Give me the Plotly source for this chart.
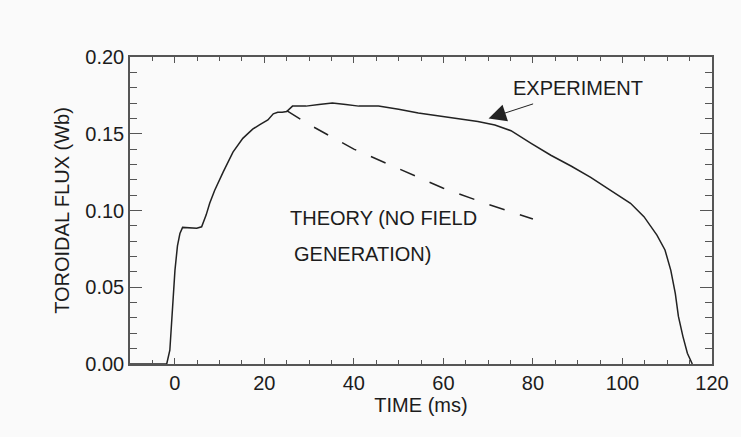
import plotly.graph_objects as go

# Experiment curve (time in ms, toroidal flux in Wb)
exp_time = [-10, -1.8, -1.1, -0.6, 0.04, 0.6, 1.15, 1.75, 3.0, 4.9, 6.0, 7.0, 7.8, 8.9,
            10.8, 13.0, 15.2, 17.4, 19.0, 20.8, 22.0, 23.0, 24.0, 25.0, 26.3, 29.3,
            32.2, 35.2, 38.2, 41.1, 45.5, 50.0, 54.4, 58.9, 63.3, 67.7, 71.5, 75.1,
            79.6, 84.0, 88.5, 92.9, 97.0, 101.8, 104.8, 107.7, 109.5, 110.8, 111.8,
            112.5, 113.5, 114.5, 115.6]
exp_flux = [0.0, 0.0, 0.009, 0.035, 0.061, 0.077, 0.085, 0.089, 0.0888, 0.0884, 0.0894,
            0.097, 0.1047, 0.113, 0.125, 0.138, 0.147, 0.153, 0.156, 0.159, 0.163,
            0.164, 0.164, 0.1645, 0.168, 0.168, 0.169, 0.170, 0.169, 0.168, 0.168,
            0.166, 0.1635, 0.1616, 0.160, 0.158, 0.1557, 0.152, 0.1438, 0.136, 0.129,
            0.1216, 0.1138, 0.1047, 0.096, 0.084, 0.0743, 0.061, 0.046, 0.031, 0.018,
            0.007, 0.0]

# Theory (no field generation) curve
theory_time = [25, 30, 40, 50, 60, 70, 80]
theory_flux = [0.165, 0.156, 0.140, 0.127, 0.1145, 0.104, 0.0945]

x_ticks = [0, 20, 40, 60, 80, 100, 120]
y_ticks = [0.00, 0.05, 0.10, 0.15, 0.20]

TXT = "#1c1c1c"
AX = "#555555"
FONT = "Liberation Sans, Arial, sans-serif"

fig = go.Figure()
fig.add_trace(go.Scatter(x=exp_time, y=exp_flux, mode="lines",
                         line=dict(color="#222222", width=1.5), showlegend=False))
fig.add_trace(go.Scatter(x=theory_time, y=theory_flux, mode="lines",
                         line=dict(color="#222222", width=1.5, dash="16px,16px"),
                         showlegend=False))

fig.add_annotation(x=75.0, y=0.1798, xref="x", yref="y", text="EXPERIMENT",
                   showarrow=False, xanchor="left", yanchor="middle",
                   font=dict(size=20, color=TXT, family=FONT))
fig.add_annotation(x=70.1, y=0.160, xref="x", yref="y", text="",
                   showarrow=True, ax=46, ay=-15, arrowhead=2, arrowsize=3.5,
                   arrowwidth=1, arrowcolor="#222222")
fig.add_annotation(x=25.3, y=0.0951, xref="x", yref="y", text="THEORY (NO FIELD",
                   showarrow=False, xanchor="left", yanchor="middle",
                   font=dict(size=20, color=TXT, family=FONT))
fig.add_annotation(x=26.2, y=0.0717, xref="x", yref="y", text="GENERATION)",
                   showarrow=False, xanchor="left", yanchor="middle",
                   font=dict(size=20, color=TXT, family=FONT))

fig.update_xaxes(range=[-10, 120], tickvals=x_ticks, ticktext=[str(v) for v in x_ticks],
                 showgrid=False, zeroline=False, showline=True, linecolor=AX, linewidth=1.5,
                 mirror="allticks", ticks="inside", ticklen=6, tickcolor=AX, tickwidth=1.2,
                 minor=dict(dtick=5, tick0=0, ticks="inside", ticklen=4, tickcolor=AX, tickwidth=1.2),
                 tickfont=dict(size=20, color=TXT, family=FONT),
                 title=dict(text="TIME (ms)", font=dict(size=20, color=TXT, family=FONT), standoff=4))
fig.update_yaxes(range=[0, 0.2], tickvals=y_ticks, ticktext=[f"{v:.2f}" for v in y_ticks],
                 showgrid=False, zeroline=False, showline=True, linecolor=AX, linewidth=1.5,
                 mirror="allticks", ticks="inside", ticklen=12, tickcolor=AX, tickwidth=1.2,
                 minor=dict(dtick=0.01, tick0=0, ticks="inside", ticklen=7, tickcolor=AX, tickwidth=1.2),
                 tickfont=dict(size=20, color=TXT, family=FONT),
                 title=dict(text="TOROIDAL FLUX (Wb)", font=dict(size=20, color=TXT, family=FONT), standoff=10))

fig.update_layout(width=741, height=437, margin=dict(l=130, r=25, t=57, b=73),
                  paper_bgcolor="#fafafa", plot_bgcolor="#fafafa", showlegend=False)

fig.write_html("out.html")
